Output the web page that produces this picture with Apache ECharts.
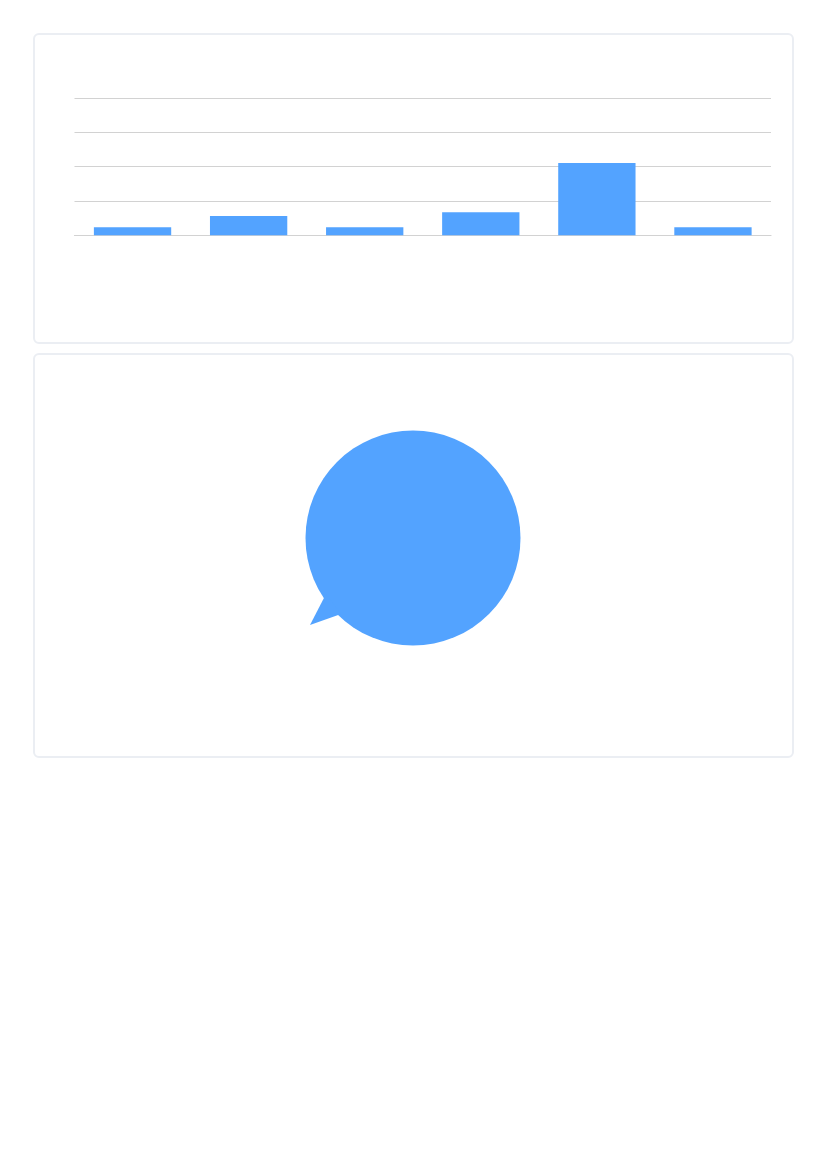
<!DOCTYPE html>
<html><head><meta charset="utf-8">
<style>
html,body{margin:0;padding:0;background:#fff}
.card{position:absolute;left:33px;width:757px;box-sizing:content-box;border:2px solid #ebeef3;border-radius:6px;background:#fff}
#chart{position:absolute;left:0;top:0;width:826px;height:1169px}
</style>
<script src="https://cdn.jsdelivr.net/npm/echarts@6/dist/echarts.min.js"></script>
</head><body>
<div class="card" style="top:33px;height:306.5px"></div>
<div class="card" style="top:353px;height:401px"></div>
<div id="chart"></div>
<script>
const categories = ['A','B','C','D','E','F'];
const barValues = [2.3, 5.6, 2.3, 6.7, 21.1, 2.3];
const yTicksMax = 40;
const yTicksStep = 10;
const pieValues = [{name:'A', value:100}];
const blue = '#53a3ff';

const chart = echarts.init(document.getElementById('chart'), null, {renderer:'canvas'});
chart.setOption({
  animation:false,
  backgroundColor:'transparent',
  grid:{left:74.5, width:696.5, top:98.2, height:137, containLabel:false},
  xAxis:{type:'category', data:categories,
    axisLine:{lineStyle:{color:'#d2d2d2', width:1.2}}, axisTick:{show:false}, axisLabel:{show:false}},
  yAxis:{type:'value', min:0, max:yTicksMax, interval:yTicksStep,
    axisLine:{show:false}, axisTick:{show:false}, axisLabel:{show:false},
    splitLine:{lineStyle:{color:'#d2d2d2', width:1.2}}},
  series:[
    {type:'bar', data:barValues, barWidth:'66.6%', itemStyle:{color:blue}, z:3},
    {type:'pie', center:[413,538], radius:[0,107.5], data:pieValues,
      label:{show:false}, labelLine:{show:false}, silent:true,
      itemStyle:{color:blue}}
  ],
  graphic:[{type:'polygon', silent:true, z:10,
    shape:{points:[[326,594],[310,625],[341,614]]},
    style:{fill:blue}}]
});
</script>
</body></html>
